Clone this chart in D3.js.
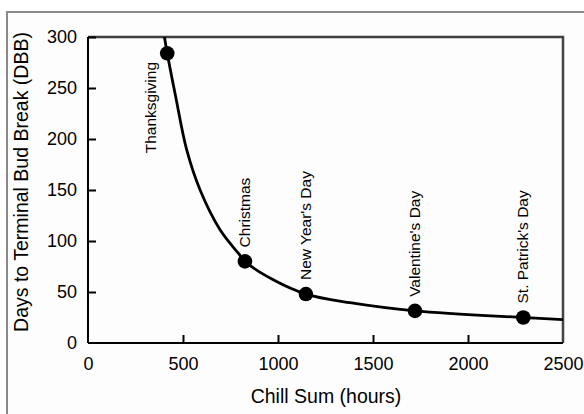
<!DOCTYPE html>
<html>
<head>
<meta charset="utf-8">
<script src="https://cdn.jsdelivr.net/npm/d3@7"></script>
<style>
  html, body { margin: 0; padding: 0; background: #ffffff; }
  svg { display: block; font-family: "Liberation Sans", Arial, Helvetica, sans-serif; }
</style>
</head>
<body>
<svg id="chart" width="584" height="414"></svg>
<script>
// Observed holidays: chill accumulated (hours) and days to terminal bud break
const holidays = ["Thanksgiving", "Christmas", "New Year's Day", "Valentine's Day", "St. Patrick's Day"];
const chillHours = [417, 826, 1147, 1721, 2291];
const daysToBudBreak = [284, 80, 48, 31.5, 25];

// Fitted response curve, sampled along its length
const fitChill = [398, 417, 462, 520, 590, 695, 791, 826, 975, 1147, 1379, 1721, 2291, 2500];
const fitDays = [305, 284, 241, 189, 150, 111, 88, 80, 62, 48, 39.5, 31.5, 25, 23];

// Axis ticks
const xTicks = [0, 500, 1000, 1500, 2000, 2500];
const yTicks = [0, 50, 100, 150, 200, 250, 300];

const svg = d3.select("#chart");
const plotL = 88, plotR = 563, plotT = 37, plotB = 343;

const x = d3.scaleLinear().domain([0, 2500]).range([plotL, plotR]);
const y = d3.scaleLinear().domain([0, 300]).range([plotB, plotT]);

// Outer panel frame (top and left edges)
svg.append("rect")
  .attr("x", 7).attr("y", 12).attr("width", 600).attr("height", 420)
  .attr("fill", "#fdfdfd").attr("stroke", "#8a8a8a").attr("stroke-width", 2);

// Plot box: top and right edges
svg.append("path")
  .attr("d", `M${plotL},${plotT}H${plotR}V${plotB}`)
  .attr("fill", "none").attr("stroke", "#9a9a9a").attr("stroke-width", 3);
svg.append("path")
  .attr("d", `M${plotL},${plotT}H${plotR}V${plotB}`)
  .attr("fill", "none").attr("stroke", "#222").attr("stroke-width", 1.4);

// Axes with inward ticks
const xAxis = d3.axisBottom(x).tickValues(xTicks).tickSize(-8).tickPadding(14).tickFormat(d3.format("d"));
const yAxis = d3.axisLeft(y).tickValues(yTicks).tickSize(-8).tickPadding(11).tickFormat(d3.format("d"));

const gx = svg.append("g").attr("transform", `translate(0,${plotB})`).call(xAxis);
const gy = svg.append("g").attr("transform", `translate(${plotL},0)`).call(yAxis);

[gx, gy].forEach(g => {
  g.select(".domain").attr("stroke", "#000").attr("stroke-width", 2);
  g.selectAll(".tick line").attr("stroke", "#000").attr("stroke-width", 2);
  g.selectAll(".tick text").attr("fill", "#000").style("font-size", "18px")
    .style("font-family", "'Liberation Sans', Arial, Helvetica, sans-serif");
});
gx.select(".domain").attr("d", `M${plotL},0H${plotR}`);
gy.select(".domain").attr("d", `M0,${plotB}V${plotT}`);
gy.selectAll(".tick line").filter(d => d === 0).remove();
gx.selectAll(".tick line").filter(d => d === 0 || d === 2500).remove();

// Axis titles
svg.append("text")
  .attr("x", (plotL + plotR) / 2 + 0.5).attr("y", 403)
  .attr("text-anchor", "middle").style("font-size", "19.5px").attr("fill", "#000")
  .text("Chill Sum (hours)");
svg.append("text")
  .attr("transform", `translate(28,${(plotT + plotB) / 2 - 8}) rotate(-90)`)
  .attr("text-anchor", "middle").style("font-size", "19.5px").attr("fill", "#000")
  .text("Days to Terminal Bud Break (DBB)");

// Clip region for the curve
svg.append("clipPath").attr("id", "plotClip")
  .append("rect").attr("x", plotL).attr("y", plotT).attr("width", plotR - plotL).attr("height", plotB - plotT);

const fit = fitChill.map((c, i) => [c, fitDays[i]]);
const line = d3.line().x(d => x(d[0])).y(d => y(d[1])).curve(d3.curveCatmullRom.alpha(0.5));
svg.append("path")
  .datum(fit)
  .attr("clip-path", "url(#plotClip)")
  .attr("d", line)
  .attr("fill", "none").attr("stroke", "#000").attr("stroke-width", 2.8);

// Points
const pts = chillHours.map((c, i) => ({ name: holidays[i], c, d: daysToBudBreak[i] }));
svg.append("g").selectAll("circle").data(pts).join("circle")
  .attr("cx", d => x(d.c)).attr("cy", d => y(d.d)).attr("r", 7.3).attr("fill", "#000");

// Vertical labels: above each point, or below-left when the point sits near the top
svg.append("g").selectAll("text").data(pts).join("text")
  .attr("transform", d => {
    const px = x(d.c), py = y(d.d);
    if (py - plotT < 60) return `translate(${px - 11},${py + 100}) rotate(-90)`;
    return `translate(${px + 5},${py - 14}) rotate(-90)`;
  })
  .attr("text-anchor", "start").style("font-size", "15.5px").attr("fill", "#000")
  .text(d => d.name);
</script>
</body>
</html>
